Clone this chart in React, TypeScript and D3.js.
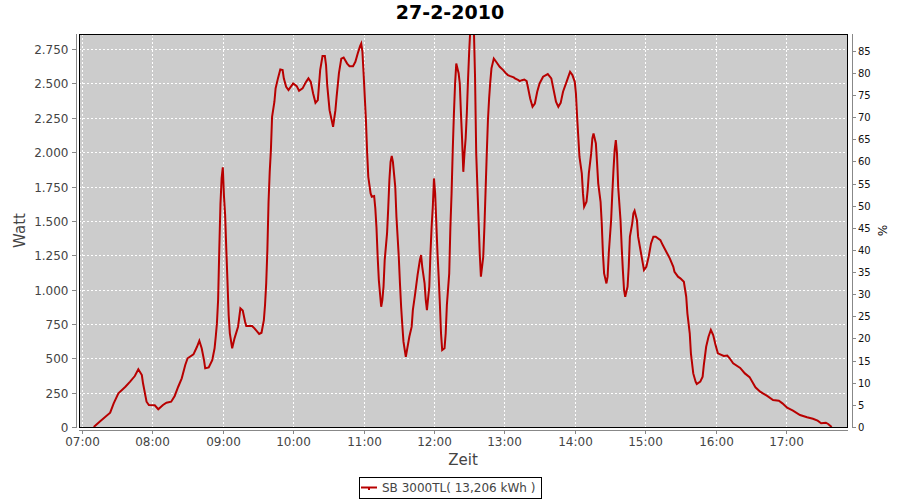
import React from "react";
import * as d3 from "d3";

const title = "27-2-2010";
const seriesName = "SB 3000TL( 13,206 kWh )";
const yLabel = "Watt";
const y2Label = "%";
const xLabel = "Zeit";

const times: string[] = [
  "07:10","07:15","07:24","07:27","07:31","07:37","07:41","07:45","07:48","07:51","07:52","07:55","07:57",
  "08:02","08:05","08:09","08:12","08:16","08:19","08:22","08:25","08:28","08:30","08:35","08:38","08:40",
  "08:42","08:44","08:45","08:48","08:51","08:53","08:54","08:55","08:56","08:57","08:58","08:59",
  "09:00","09:01","09:02","09:03","09:04","09:05","09:06","09:08","09:10","09:13","09:15","09:17","09:19",
  "09:20","09:25","09:27","09:31","09:33","09:35","09:36","09:37","09:38","09:39","09:40","09:41","09:42",
  "09:44","09:45","09:47","09:49","09:51","09:52","09:54","09:56","09:57",
  "10:00","10:03","10:05","10:08","10:11","10:13","10:15","10:17","10:19","10:21","10:23","10:25","10:27",
  "10:28","10:29","10:31","10:34","10:36","10:37","10:39","10:41","10:43","10:46","10:48","10:51","10:53",
  "10:55","10:57","10:58","10:59",
  "11:00","11:02","11:03","11:04","11:06","11:07","11:09","11:10","11:11","11:12","11:13","11:15","11:16",
  "11:17","11:18","11:20","11:21","11:22","11:23","11:24","11:25","11:27","11:28","11:29","11:30","11:31",
  "11:32","11:33","11:34","11:36","11:37","11:39","11:41","11:42","11:44","11:46","11:48","11:49","11:50",
  "11:52","11:53","11:54","11:56","11:57","11:58","11:59",
  "12:00","12:01","12:02","12:03","12:04","12:05","12:06","12:07","12:09","12:10","12:11","12:13","12:14",
  "12:15","12:16","12:17","12:18","12:19","12:21","12:22","12:23","12:24","12:25","12:26","12:27","12:28",
  "12:29","12:30","12:31","12:33","12:34","12:35","12:36","12:37","12:38","12:39","12:40","12:42","12:43",
  "12:44","12:45","12:46","12:47","12:48","12:49","12:51","12:53","12:56","12:59",
  "13:01","13:03","13:05","13:08","13:09","13:12","13:13","13:15","13:17","13:19","13:20","13:22","13:24",
  "13:26","13:28","13:30","13:33","13:37","13:40","13:42","13:44","13:46","13:48","13:50","13:53","13:55",
  "13:56","13:58",
  "14:00","14:01","14:02","14:03","14:04","14:06","14:07","14:08","14:10","14:11","14:12","14:14","14:15",
  "14:16","14:18","14:19","14:20","14:22","14:23","14:24","14:25","14:27","14:28","14:29","14:31","14:32",
  "14:33","14:34","14:35","14:36","14:37","14:39","14:40","14:41","14:42","14:43","14:45","14:46","14:47",
  "14:49","14:50","14:51","14:53","14:54","14:56","14:58","14:59",
  "15:01","15:03","15:05","15:07","15:09","15:13","15:15","15:18","15:21","15:24","15:25","15:28","15:30",
  "15:33","15:35","15:36","15:38","15:39","15:41","15:43","15:44","15:47","15:49","15:50","15:52","15:54",
  "15:56","15:58",
  "16:00","16:02","16:07","16:10","16:12","16:15","16:21","16:25","16:29","16:34","16:38","16:44","16:49",
  "16:54","16:57",
  "17:01","17:06","17:12","17:18","17:23","17:27","17:30","17:34","17:36","17:39"
];

const watts: number[] = [
  0,39,104,172,245,293,330,371,420,378,318,184,160,
  158,129,160,177,184,226,293,354,451,500,529,584,628,
  573,487,427,434,487,573,657,754,924,1288,1620,1810,
  1890,1680,1540,1290,1057,815,682,573,645,730,864,847,766,
  735,735,718,677,686,778,888,1045,1288,1639,1857,2015,2258,
  2367,2464,2537,2602,2597,2537,2476,2452,2464,
  2500,2481,2447,2464,2512,2537,2512,2427,2359,2379,2597,2699,2699,
  2634,2488,2306,2185,2306,2403,2575,2681,2689,2645,2626,2626,2658,
  2718,2772,2791,2731,
  2575,2234,2003,1821,1700,1676,1681,1591,1450,1239,1069,875,924,
  1021,1215,1409,1591,1797,1930,1972,1930,1748,1530,1385,1239,1045,
  875,742,621,511,560,657,730,851,973,1106,1215,1251,1166,
  1045,924,851,1021,1264,1457,1603,
  1809,1700,1482,1264,1094,900,682,560,573,682,888,1118,1457,
  1700,2015,2282,2500,2645,2575,2500,2282,2088,1857,1991,2100,2282,
  2524,2731,2900,2950,2900,2549,1991,1748,1506,1264,1094,1239,1457,
  1724,1991,2234,2391,2512,2610,2681,2658,2621,2597,
  2577,2561,2553,2544,2537,2524,2517,2524,2529,2517,2476,2391,2330,
  2354,2440,2500,2549,2568,2537,2452,2367,2330,2359,2440,2512,2561,
  2585,2561,
  2512,2427,2258,2112,1967,1846,1700,1603,1639,1724,1846,1991,2100,
  2136,2063,1918,1773,1639,1482,1264,1118,1045,1094,1264,1506,1700,
  1870,2015,2088,1991,1748,1506,1312,1142,997,948,1021,1166,1385,
  1482,1555,1574,1506,1385,1288,1191,1142,
  1166,1239,1336,1385,1385,1360,1324,1276,1227,1166,1130,1094,1082,
  1057,948,827,682,536,390,330,313,330,366,451,584,657,
  706,669,
  597,536,517,520,500,463,430,390,363,289,257,226,196,
  191,172,
  140,119,87,71,60,46,27,31,22,0
];

const xDomain = ["06:57:26", "17:52:54"];
const xTicks = ["07:00","08:00","09:00","10:00","11:00","12:00","13:00","14:00","15:00","16:00","17:00"];
const yMax = 2860;
const yTicks = [0,250,500,750,1000,1250,1500,1750,2000,2250,2500,2750];
const y2Max = 88.8;
const y2Ticks = [0,5,10,15,20,25,30,35,40,45,50,55,60,65,70,75,80,85];

const parseHM = d3.timeParse("%H:%M");
const parseHMS = d3.timeParse("%H:%M:%S");

export default function App() {
  const L = 79, R = 848, T = 34, B = 427;
  const font = "'DejaVu Sans', sans-serif";
  const x = d3.scaleTime()
    .domain([parseHMS(xDomain[0])!, parseHMS(xDomain[1])!])
    .range([L, R]);
  const y = d3.scaleLinear().domain([0, yMax]).range([B, T]);
  const y2 = d3.scaleLinear().domain([0, y2Max]).range([B, T]);
  const fmtW = (v: number) => d3.format(",.3~f")(v / 1000 >= 1 ? v : v).replace(/,/g, ".");
  const fmtY = (v: number) => {
    if (v < 1000) return String(v);
    const th = Math.floor(v / 1000);
    const rest = String(v % 1000).padStart(3, "0");
    return `${th}.${rest}`;
  };
  const data = times.map((t, i) => ({ t: parseHM(t)!, v: watts[i] }));
  const line = d3.line<{ t: Date; v: number }>()
    .x((d) => x(d.t))
    .y((d) => y(d.v));
  void fmtW;
  const grey = "#888888";
  const txt = "#444444";
  return (
    <svg width={900} height={500} style={{ position: "absolute", left: 0, top: 0, background: "#fff" }}>
      <defs>
        <clipPath id="plotclip">
          <rect x={L} y={T} width={R - L} height={B - T} />
        </clipPath>
      </defs>
      <text x={450} y={18.5} textAnchor="middle" fontFamily={font} fontWeight="bold" fontSize={19} fill="#000">{title}</text>
      <rect x={L} y={T} width={R - L} height={B - T} fill="#cccccc" />
      {yTicks.filter((v) => v > 0).map((v) => (
        <line key={"gy" + v} x1={L} x2={R} y1={Math.round(y(v)) + 0.5} y2={Math.round(y(v)) + 0.5}
          stroke="#fff" strokeWidth={1} strokeDasharray="2,2" />
      ))}
      {xTicks.map((t) => {
        const xx = Math.round(x(parseHM(t)!)) + 0.5;
        return <line key={"gx" + t} x1={xx} x2={xx} y1={T} y2={B} stroke="#fff" strokeWidth={1} strokeDasharray="2,2" />;
      })}
      <path d={line(data) || ""} fill="none" stroke="#b80000" strokeWidth={2} strokeLinejoin="miter" clipPath="url(#plotclip)" />
      <rect x={L + 0.5} y={T + 0.5} width={R - L - 1} height={B - T} fill="none" stroke="#000" strokeWidth={1} />
      {/* left axis */}
      <line x1={76.5} x2={76.5} y1={T} y2={B + 1} stroke={grey} strokeWidth={1} />
      {yTicks.map((v) => {
        const yy = Math.round(y(v)) + 0.5;
        return (
          <g key={"ly" + v}>
            <line x1={72} x2={76} y1={yy} y2={yy} stroke={grey} strokeWidth={1} />
            <text x={68.5} y={yy} dy="0.36em" textAnchor="end" fontFamily={font} fontSize={12} fill={txt}>{fmtY(v)}</text>
          </g>
        );
      })}
      <text transform={`translate(25,${(T + B) / 2}) rotate(-90)`} textAnchor="middle" fontFamily={font} fontSize={15} fill={txt}>{yLabel}</text>
      {/* bottom axis */}
      <line x1={L} x2={R} y1={430.5} y2={430.5} stroke={grey} strokeWidth={1} />
      {xTicks.map((t) => {
        const xx = Math.round(x(parseHM(t)!)) + 0.5;
        return (
          <g key={"bx" + t}>
            <line x1={xx} x2={xx} y1={430} y2={434} stroke={grey} strokeWidth={1} />
            <text x={xx} y={445.5} textAnchor="middle" fontFamily={font} fontSize={12} fill={txt}>{t}</text>
          </g>
        );
      })}
      <text x={463} y={465} textAnchor="middle" fontFamily={font} fontSize={15} fill={txt}>{xLabel}</text>
      {/* right axis */}
      <line x1={852.5} x2={852.5} y1={T} y2={B + 1} stroke={grey} strokeWidth={1} />
      {y2Ticks.map((v) => {
        const yy = Math.round(y2(v)) + 0.5;
        return (
          <g key={"ry" + v}>
            <line x1={852} x2={856} y1={yy} y2={yy} stroke={grey} strokeWidth={1} />
            <text x={858} y={yy} dy="0.36em" textAnchor="start" fontFamily={font} fontSize={10} fill="#111">{v}</text>
          </g>
        );
      })}
      <text transform={`translate(878,${(T + B) / 2}) rotate(90)`} textAnchor="middle" fontFamily={font} fontSize={12} fill="#111">{y2Label}</text>
      {/* legend */}
      <rect x={359.5} y={477.5} width={182} height={21} fill="#fff" stroke="#000" strokeWidth={1} />
      <line x1={361} x2={377} y1={487.5} y2={487.5} stroke="#b80000" strokeWidth={2} />
      <rect x={368} y={487} width={2} height={3} fill="#b80000" />
      <text x={382} y={492} fontFamily={font} fontSize={12} fill={txt}>{seriesName}</text>
    </svg>
  );
}
